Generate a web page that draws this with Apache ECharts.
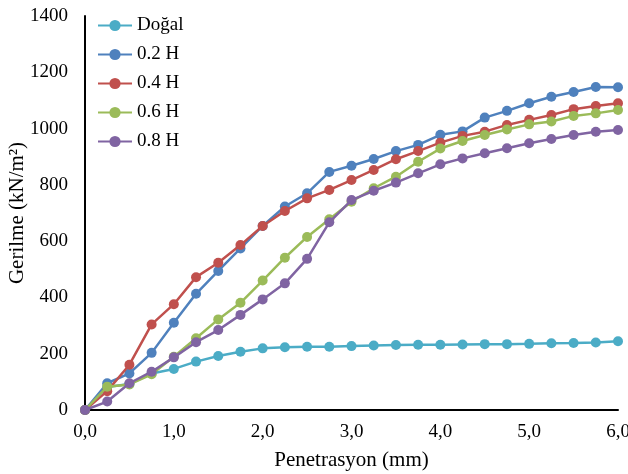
<!DOCTYPE html>
<html>
<head>
<meta charset="utf-8">
<script src="https://cdn.jsdelivr.net/npm/echarts@6/dist/echarts.min.js"></script>
<style>html,body{margin:0;padding:0;background:#fff}#c{width:628px;height:474px}</style>
</head>
<body>
<div id="c"></div>
<script>
var penetration = [0,0.25,0.5,0.75,1.0,1.25,1.5,1.75,2.0,2.25,2.5,2.75,3.0,3.25,3.5,3.75,4.0,4.25,4.5,4.75,5.0,5.25,5.5,5.75,6.0];
var seriesNames = ['Doğal','0.2 H','0.4 H','0.6 H','0.8 H'];
var dogal = [0,82,92,130,146,172,192,207,219,223,225,225,227,229,231,232,232,233,234,234,235,237,238,240,244];
var h02 = [0,95,130,203,310,413,494,574,654,723,770,846,868,892,920,942,978,990,1039,1063,1090,1113,1130,1148,1147];
var h04 = [0,67,161,304,376,472,523,586,654,707,752,782,817,853,891,920,950,974,989,1013,1031,1048,1069,1080,1090];
var h06 = [0,83,91,127,189,255,322,381,460,541,615,678,740,788,829,882,929,956,977,997,1015,1025,1045,1054,1066];
var h08 = [0,30,95,136,187,241,284,338,393,450,537,667,746,779,808,841,873,894,912,930,948,963,977,989,995];
var yTicks = [0,200,400,600,800,1000,1200,1400];

var colors = ['#4BACC6','#4F81BD','#C0504D','#9BBB59','#8064A2'];
var values = [dogal,h02,h04,h06,h08];
var font = '"Liberation Serif","Times New Roman",serif';

function pairs(v){ return penetration.map(function(x,i){ return [x, v[i]]; }); }

var chart = echarts.init(document.getElementById('c'), null, {renderer:'canvas'});
chart.setOption({
  animation:false,
  backgroundColor:'#fff',
  textStyle:{fontFamily:font},
  grid:{left:85,right:10,top:16,bottom:64,containLabel:false,outerBoundsMode:'none'},
  legend:{
    orient:'vertical', left:92, top:11, itemWidth:34, itemHeight:14, itemGap:10,
    textStyle:{fontFamily:font,fontSize:19,color:'#000'},
    data:seriesNames
  },
  xAxis:{
    type:'value', min:0, max:6, interval:1,
    name:'Penetrasyon (mm)', nameLocation:'middle', nameGap:40, nameMoveOverlap:false,
    nameTextStyle:{fontFamily:font,fontSize:21,color:'#000'},
    axisLine:{show:true,lineStyle:{color:'#000',width:2}},
    axisTick:{show:false},
    splitLine:{show:false},
    axisLabel:{fontFamily:font,fontSize:19,color:'#000',margin:13,
      formatter:function(v){ return v.toFixed(1).replace('.',','); }}
  },
  yAxis:{
    type:'value', min:yTicks[0], max:yTicks[yTicks.length-1], interval:yTicks[1]-yTicks[0],
    name:'Gerilme (kN/m²)', nameLocation:'middle', nameGap:57, nameMoveOverlap:false,
    nameTextStyle:{fontFamily:font,fontSize:21,color:'#000'},
    axisLine:{show:true,lineStyle:{color:'#000',width:2}},
    axisTick:{show:false},
    splitLine:{show:false},
    axisLabel:{fontFamily:font,fontSize:19,color:'#000',margin:17,
      formatter:function(v){ return String(v); }}
  },
  series: seriesNames.map(function(n,i){
    return {
      name:n, type:'line', data:pairs(values[i]),
      symbol:'circle', symbolSize:10,
      lineStyle:{color:colors[i],width:2.5},
      itemStyle:{color:colors[i]},
      z:2+i
    };
  })
});
</script>
</body>
</html>
